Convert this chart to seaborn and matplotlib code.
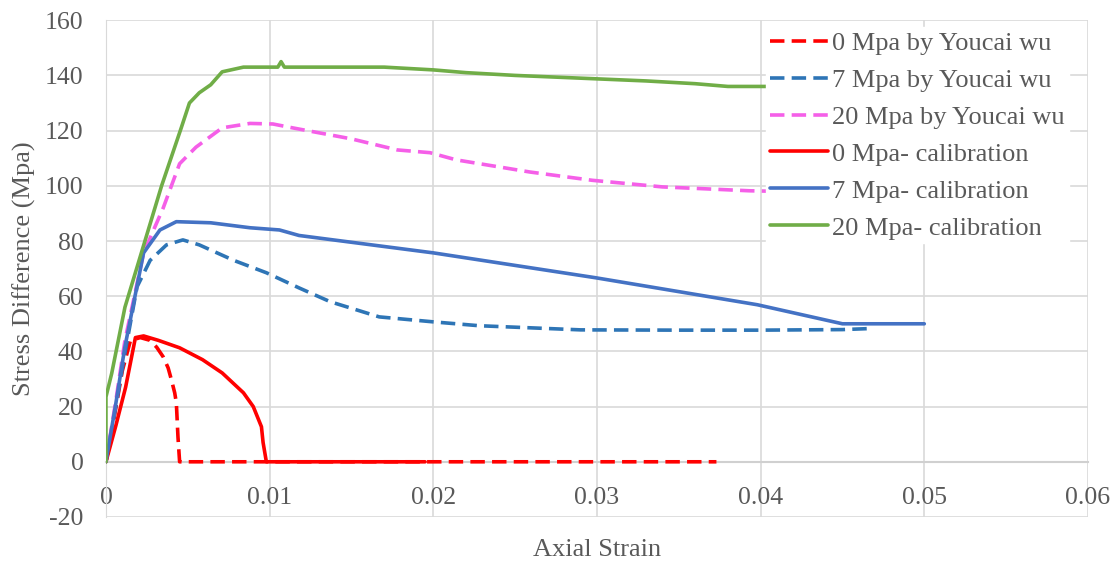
import numpy as np
import pandas as pd
import matplotlib
matplotlib.use('Agg')
import matplotlib.pyplot as plt
import seaborn as sns

# 0 Mpa by Youcai wu (dashed red)
x_0_wu = [0, 0.0005, 0.001, 0.0015, 0.0021, 0.0027, 0.0031, 0.0035, 0.0038, 0.004, 0.0042, 0.0043, 0.0044, 0.0045, 0.01, 0.02, 0.03, 0.0373]
y_0_wu = [0, 16, 33, 44, 45, 44, 41.5, 38, 34, 29.7, 25, 21.4, 9, 0, 0, 0, 0, 0]

# 7 Mpa by Youcai wu (dashed blue)
x_7_wu = [0, 0.0006, 0.00116, 0.0019, 0.0027, 0.0037, 0.0047, 0.0057, 0.0078, 0.0098, 0.0118, 0.0137, 0.0167, 0.02, 0.0228, 0.029, 0.035, 0.04, 0.045, 0.0468]
y_7_wu = [0, 20, 39.5, 63.4, 73, 78.6, 80.4, 78.6, 73, 68.5, 63, 58, 52.5, 50.7, 49.3, 47.8, 47.7, 47.7, 47.9, 48.3]

# 20 Mpa by Youcai wu (dashed pink)
x_20_wu = [0, 0.0006, 0.00116, 0.0023, 0.0035, 0.0045, 0.0055, 0.0071, 0.0088, 0.0102, 0.0114, 0.015, 0.0178, 0.0198, 0.0214, 0.0259, 0.0297, 0.034, 0.0393, 0.041]
y_20_wu = [0, 22, 44, 75.7, 92, 108, 114, 121, 122.6, 122.4, 121, 117, 113, 112, 109.4, 105, 102, 99.6, 98.2, 98]

# 0 Mpa- calibration (solid red)
x_0_cal = [0, 0.0006, 0.0012, 0.0018, 0.0023, 0.0032, 0.0045, 0.0059, 0.0071, 0.0084, 0.009, 0.0095, 0.0096, 0.0098, 0.015, 0.0195]
y_0_cal = [0, 13, 27, 45, 45.6, 44, 41.3, 37, 32.2, 25, 20, 12.7, 7, 0, 0, 0]

# 7 Mpa- calibration (solid blue)
x_7_cal = [0, 0.0006, 0.00116, 0.0023, 0.0033, 0.0043, 0.0064, 0.0088, 0.0106, 0.0118, 0.02, 0.0299, 0.0398, 0.045, 0.05]
y_7_cal = [0, 21, 41.7, 75.7, 84, 87, 86.6, 84.8, 84, 82, 75.7, 66.7, 56.9, 50, 50]

# 20 Mpa- calibration (solid green)
x_20_cal = [0, 0, 0.00035, 0.00116, 0.00228, 0.0034, 0.004, 0.0046, 0.0051, 0.0057, 0.0064, 0.0071, 0.0084, 0.0105, 0.0107, 0.0109, 0.017, 0.02, 0.022, 0.025, 0.029, 0.033, 0.036, 0.038, 0.045]
y_20_cal = [0, 23.5, 32, 56, 78, 100, 110.5, 121, 130, 133.7, 136.6, 141.3, 143, 143, 145, 143, 143, 142, 141, 140, 139, 138, 137, 136, 136]

series = [
    ('0 Mpa by Youcai wu', x_0_wu, y_0_wu, '#FF0000', '--'),
    ('7 Mpa by Youcai wu', x_7_wu, y_7_wu, '#2E75B6', '--'),
    ('20 Mpa by Youcai wu', x_20_wu, y_20_wu, '#F55FE8', '--'),
    ('0 Mpa- calibration', x_0_cal, y_0_cal, '#FF0000', '-'),
    ('7 Mpa- calibration', x_7_cal, y_7_cal, '#4472C4', '-'),
    ('20 Mpa- calibration', x_20_cal, y_20_cal, '#70AD47', '-'),
]

sns.set_style('white')
plt.rcParams['font.family'] = ['Liberation Serif', 'DejaVu Serif']
plt.rcParams['axes.unicode_minus'] = False
grey = '#595959'

fig = plt.figure(figsize=(11.13, 5.71), dpi=100)
ax = fig.add_axes([0.0952, 0.0946, 0.8823, 0.870])

for name, xs, ys, col, ls in series:
    df = pd.DataFrame({'x': xs, 'y': ys})
    sns.lineplot(data=df, x='x', y='y', ax=ax, color=col, linewidth=2.6,
                 estimator=None, sort=False, label=name, zorder=3)
    l = ax.get_lines()[-1]
    if ls == '--':
        l.set_dashes((4.0, 2.0))

ax.set_xlim(0, 0.06)
ax.set_ylim(-20, 160)
ax.set_xticks(np.arange(0, 0.061, 0.01))
ax.set_xticklabels(['0', '0.01', '0.02', '0.03', '0.04', '0.05', '0.06'])
ax.set_yticks(np.arange(-20, 161, 20))
ax.grid(True, color='#d9d9d9', linewidth=1.2)
ax.set_axisbelow(True)

# excel style: x axis line sits at y = 0
ax.spines['bottom'].set_position(('data', 0))
ax.spines['bottom'].set_color('#d0d0d0')
ax.spines['bottom'].set_linewidth(1.5)
ax.spines['left'].set_color('#d9d9d9')
ax.spines['top'].set_visible(False)
ax.spines['right'].set_visible(False)
ax.tick_params(axis='both', length=0, labelsize=18.5, labelcolor=grey)
ax.tick_params(axis='x', pad=18)
ax.tick_params(axis='y', pad=16)

ax.set_xlabel('Axial Strain', fontsize=19, color=grey)
ax.set_ylabel('Stress Difference (Mpa)', fontsize=19, color=grey)
ax.xaxis.set_label_coords(0.5, -0.045)
ax.yaxis.set_label_coords(-0.071, 0.5)

leg = ax.legend(loc='upper right', bbox_to_anchor=(0.994, 1.012), fontsize=19,
                frameon=True, fancybox=False, framealpha=1, edgecolor='white',
                handlelength=2.2, handletextpad=0.15, labelspacing=0.51,
                borderpad=0.15)
for t in leg.get_texts():
    t.set_color(grey)

plt.savefig('out.png', dpi=100)
